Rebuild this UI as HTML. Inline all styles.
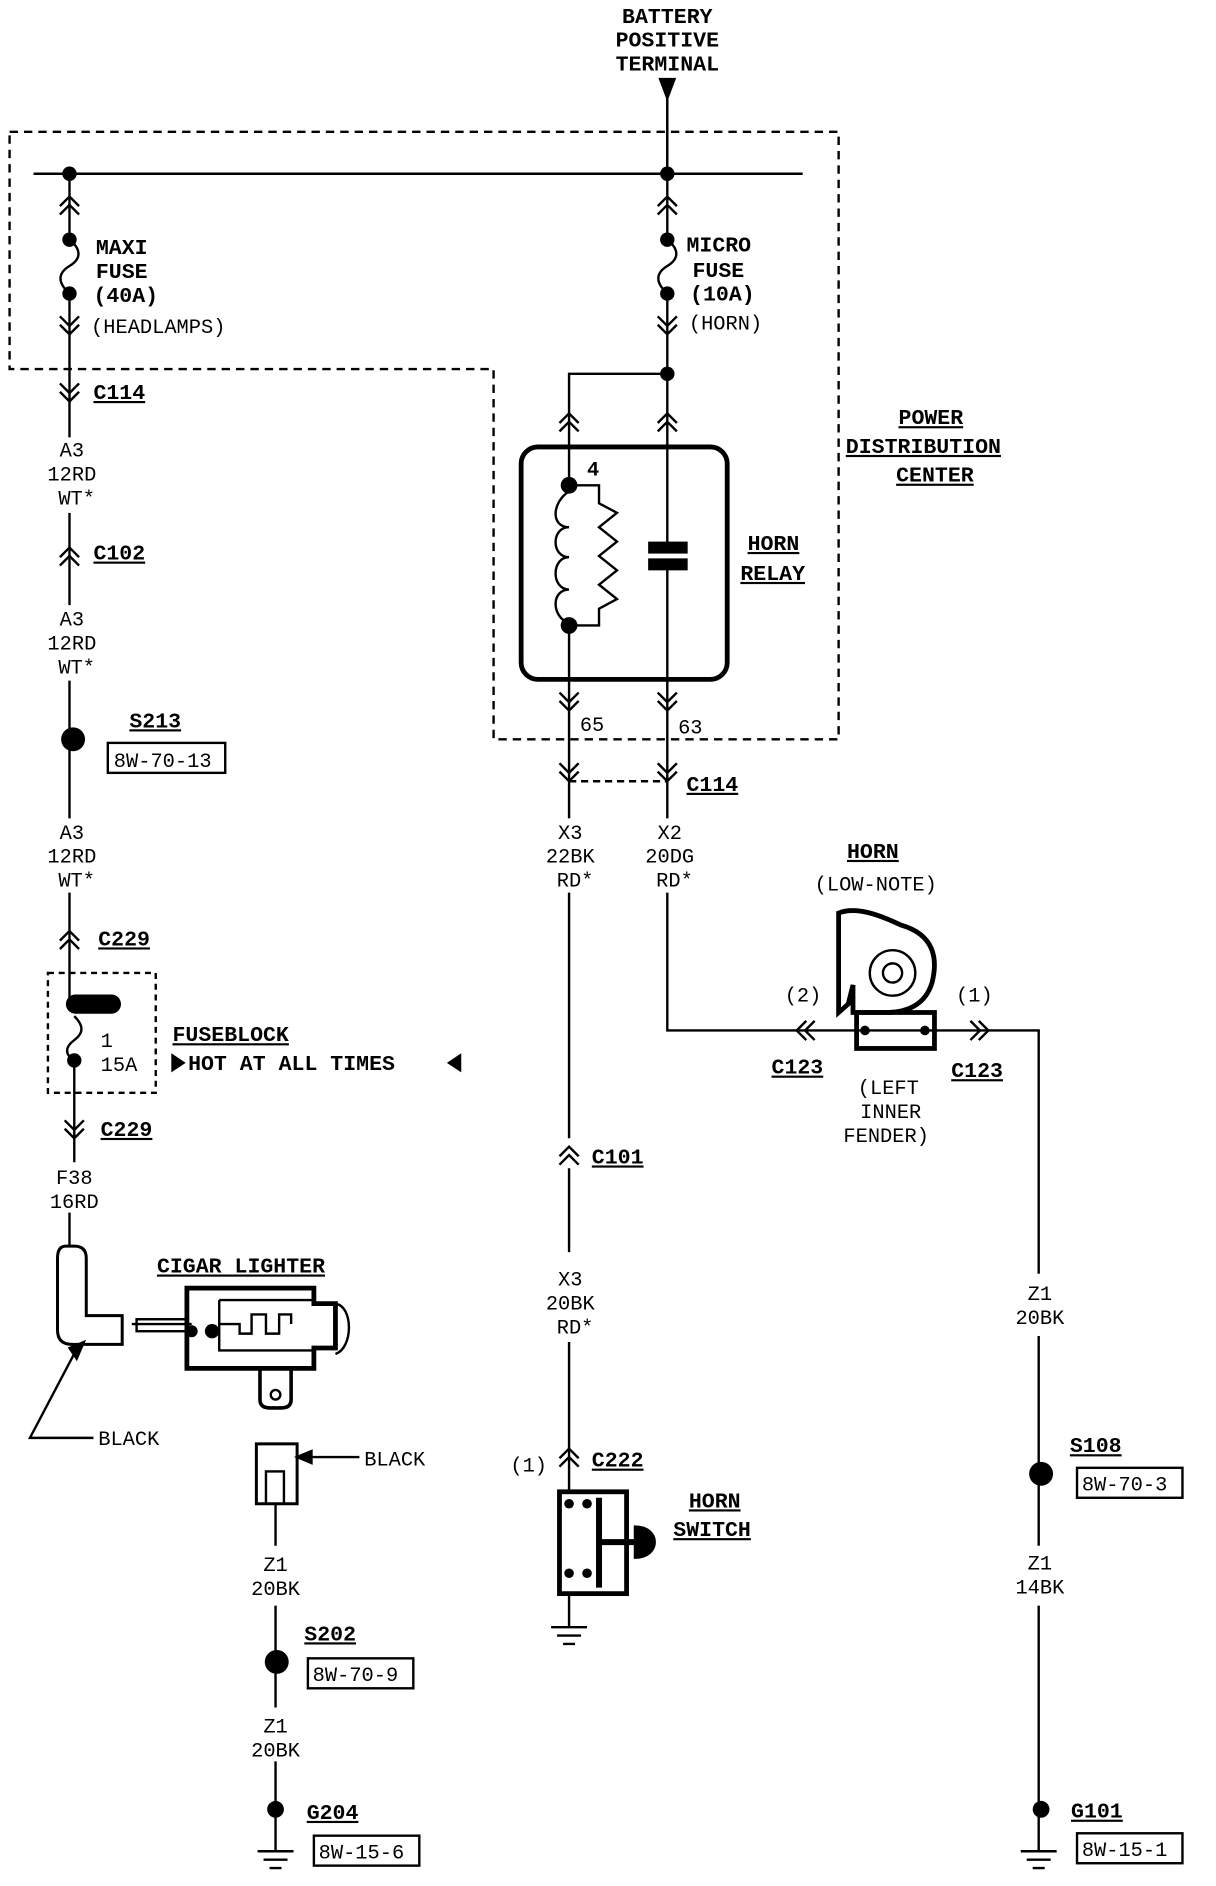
<!DOCTYPE html>
<html><head><meta charset="utf-8"><style>
html,body{margin:0;padding:0;background:#fff;}
svg{display:block;}
text{font-family:"Liberation Mono",monospace;fill:#000;}
.b{font-weight:bold;font-size:18px;}
.n{font-size:17px;}
.u{text-decoration:underline;}
</style></head><body>
<svg width="1216" height="1886" viewBox="0 0 1015 1574" preserveAspectRatio="none" xmlns="http://www.w3.org/2000/svg">
<g stroke="#000" stroke-width="2" fill="none">
<path d="M8 110 H700 V617 H412 V308 H8 Z" stroke-dasharray="7 5"/>
<path d="M557 68 V145"/>
<path d="M551 66 L557 82 L563 66 Z" fill="#000"/>
<path d="M28 145 H670"/>
<!-- left column -->
<path d="M58 145 V200 M58 245 V365 M58 428 V505 M58 568 V612"/>
<path d="M58 200 C68 208 68 216 58 222 C48 228 48 236 58 245"/>
<path d="M58 622 V683 M58 745 V835"/>
<path d="M62 885 V970 M58 1012 V1040"/>
<path d="M62 848 C70 856 70 862 62 868 C54 874 54 880 62 885"/>
<path d="M40 812 H130 V912 H40 Z" stroke-dasharray="5 4"/>
<!-- middle column -->
<path d="M557 82 V200 M557 245 V375"/>
<path d="M557 200 C567 208 567 216 557 222 C547 228 547 236 557 245"/>
<path d="M557 312 H475 V375"/>
<rect x="435" y="373" width="172" height="194" rx="14" stroke-width="4"/>
<path d="M475 373 V405 M475 522 V683 M557 375 V455 M557 472 V683"/>
<path d="M475 405 H500 V420 L515 428 L500 440 L515 452 L500 464 L515 476 L500 488 L515 500 L500 508 V522 H475"/>
<path d="M475 410 C460 420 460 440 475 440 C460 440 460 465 475 465 C460 465 460 492 475 492 C460 492 460 515 475 520"/>
<path d="M475 652 H557" stroke-dasharray="6 4"/>
<path d="M475 745 V950 M475 975 V1045 M475 1120 V1245 M475 1330 V1358"/>
<path d="M557 745 V860 H665"/>
<path d="M780 860 H867 V1063 M867 1115 V1225 M867 1236 V1290 M867 1340 V1505 M867 1515 V1545"/>
<path d="M700 762 C715 756 735 764 752 772 C780 780 783 800 778 820 C772 840 755 845 740 845 L712 845 L712 822 L708 838 L700 845 Z" stroke-width="4"/>
<circle cx="745" cy="812" r="19"/>
<circle cx="745" cy="812" r="8"/>
<rect x="715" y="845" width="65" height="30" stroke-width="4"/>
<path d="M665 860 H780"/>
<rect x="467" y="1245" width="56" height="85" stroke-width="4"/>
<path d="M500 1250 V1325" stroke-width="5"/>
<path d="M500 1287 H530" stroke-width="5"/>
<path d="M530 1274 C552 1274 552 1300 530 1300 Z" fill="#000"/>
<path d="M460 1358 H490 M465 1365 H485 M470 1372 H480"/>
<path d="M852 1545 H882 M857 1552 H877 M862 1559 H872"/>
<path d="M230 1505 V1545 M215 1545 H245 M220 1552 H240 M225 1559 H235"/>
<!-- cigar lighter -->
<path d="M55 1040 Q48 1040 48 1050 V1110 Q48 1122 60 1122 H102 V1098 H72 V1050 Q72 1040 62 1040 Z" stroke-width="2.5"/>
<path d="M65 1124 L25 1200 H78"/>
<path d="M58 1125 L70 1120 L64 1134 Z" fill="#000"/>
<path d="M110 1105 H160"/>
<rect x="114" y="1101" width="42" height="10"/>
<path d="M156 1075 H262 V1088 H280 V1125 H262 V1142 H156 Z" stroke-width="4"/>
<path d="M183 1085 H262 M183 1085 V1127 H262"/>
<path d="M280 1088 C295 1090 295 1125 280 1130"/>
<path d="M183 1105 H200 V1113 H210 V1097 H222 V1113 H233 V1097 H243 V1105"/>
<path d="M217 1142 V1168 Q217 1175 225 1175 H235 Q243 1175 243 1168 V1142" stroke-width="3"/>
<circle cx="230" cy="1164" r="4"/>
<rect x="214" y="1205" width="34" height="50" stroke-width="2.5"/>
<rect x="222" y="1228" width="15" height="27"/>
<path d="M300 1216 H256"/>
<path d="M248 1216 L260 1211 L260 1221 Z" fill="#000"/>
<path d="M230 1255 V1290 M230 1340 V1382 M230 1393 V1425 M230 1470 V1505"/>
<rect x="90" y="620" width="98" height="25"/>
<rect x="257" y="1384" width="88" height="25"/>
<rect x="899" y="1225" width="88" height="25"/>
<rect x="262" y="1532" width="88" height="25"/>
<rect x="899" y="1530" width="88" height="25"/>
</g>
<g stroke="#000" stroke-width="2" fill="none">
<path d="M50 172 L58 164 L66 172 M50 179 L58 171 L66 179"/>
<path d="M549 172 L557 164 L565 172 M549 179 L557 171 L565 179"/>
<path d="M50 264 L58 272 L66 264 M50 271 L58 279 L66 271"/>
<path d="M549 264 L557 272 L565 264 M549 271 L557 279 L565 271"/>
<path d="M50 320 L58 328 L66 320 M50 327 L58 335 L66 327"/>
<path d="M50 465 L58 457 L66 465 M50 472 L58 464 L66 472"/>
<path d="M467 353 L475 345 L483 353 M467 360 L475 352 L483 360"/>
<path d="M549 353 L557 345 L565 353 M549 360 L557 352 L565 360"/>
<path d="M467 578 L475 586 L483 578 M467 585 L475 593 L483 585"/>
<path d="M549 578 L557 586 L565 578 M549 585 L557 593 L565 585"/>
<path d="M467 637 L475 645 L483 637 M467 644 L475 652 L483 644"/>
<path d="M549 637 L557 645 L565 637 M549 644 L557 652 L565 644"/>
<path d="M50 785 L58 777 L66 785 M50 792 L58 784 L66 792"/>
<path d="M54 935 L62 943 L70 935 M54 942 L62 950 L70 942"/>
<path d="M467 965 L475 957 L483 965 M467 972 L475 964 L483 972"/>
<path d="M467 1217 L475 1209 L483 1217 M467 1224 L475 1216 L483 1224"/>
<path d="M673 852 L665 860 L673 868 M680 852 L672 860 L680 868"/>
<path d="M810 852 L818 860 L810 868 M817 852 L825 860 L817 868"/>
</g>
<g fill="#000">
<circle cx="58" cy="145" r="6"/><circle cx="557" cy="145" r="6"/>
<circle cx="58" cy="200" r="6"/><circle cx="58" cy="245" r="6"/>
<circle cx="557" cy="200" r="6"/><circle cx="557" cy="245" r="6"/>
<circle cx="557" cy="312" r="6"/>
<circle cx="475" cy="405" r="7"/><circle cx="475" cy="522" r="7"/>
<rect x="541" y="452" width="33" height="10"/><rect x="541" y="466" width="33" height="10"/>
<circle cx="61" cy="617" r="10"/>
<rect x="55" y="830" width="46" height="16" rx="8"/>
<circle cx="62" cy="885" r="6"/>
<circle cx="722" cy="860" r="4"/><circle cx="772" cy="860" r="4"/>
<circle cx="177" cy="1111" r="6"/><circle cx="160" cy="1111" r="5"/>
<circle cx="475" cy="1255" r="4"/><circle cx="475" cy="1313" r="4"/>
<circle cx="490" cy="1255" r="4"/><circle cx="490" cy="1313" r="4"/>
<circle cx="231" cy="1387" r="10"/>
<circle cx="869" cy="1230" r="10"/>
<circle cx="230" cy="1510" r="7"/>
<circle cx="869" cy="1510" r="7"/>
<path d="M143 879 L155 887 L143 895 Z"/>
<path d="M385 879 L373 887 L385 895 Z"/>
</g>
<g class="b" text-anchor="middle">
<text x="557" y="19">BATTERY</text>
<text x="557" y="39">POSITIVE</text>
<text x="557" y="59">TERMINAL</text>
</g>
<g class="b">
<text x="80" y="212">MAXI</text><text x="80" y="232">FUSE</text><text x="78" y="252">(40A)</text>
<text x="573" y="210">MICRO</text><text x="578" y="231">FUSE</text><text x="576" y="251">(10A)</text>
<text x="78" y="333" class="u">C114</text>
<text x="78" y="467" class="u">C102</text>
<text x="108" y="607" class="u">S213</text>
<text x="750" y="354" class="u">POWER</text>
<text x="706" y="378" class="u">DISTRIBUTION</text>
<text x="748" y="402" class="u">CENTER</text>
<text x="624" y="459" class="u">HORN</text>
<text x="618" y="484" class="u">RELAY</text>
<text x="573" y="660" class="u">C114</text>
<text x="707" y="716" class="u">HORN</text>
<text x="82" y="789" class="u">C229</text>
<text x="144" y="869" class="u">FUSEBLOCK</text>
<text x="157" y="893">HOT AT ALL TIMES</text>
<text x="84" y="948" class="u">C229</text>
<text x="644" y="896" class="u">C123</text>
<text x="794" y="899" class="u">C123</text>
<text x="494" y="971" class="u">C101</text>
<text x="131" y="1062" class="u">CIGAR LIGHTER</text>
<text x="893" y="1212" class="u">S108</text>
<text x="494" y="1224" class="u">C222</text>
<text x="575" y="1258" class="u">HORN</text>
<text x="562" y="1282" class="u">SWITCH</text>
<text x="254" y="1369" class="u">S202</text>
<text x="256" y="1518" class="u">G204</text>
<text x="894" y="1517" class="u">G101</text>
</g>
<g class="n">
<text x="76" y="278">(HEADLAMPS)</text>
<text x="575" y="275">(HORN)</text>
<text x="490" y="397" font-weight="bold">4</text>
<text x="484" y="610">65</text>
<text x="566" y="612">63</text>
<text x="84" y="874">1</text>
<text x="84" y="894">15A</text>
<text x="680" y="743">(LOW-NOTE)</text>
<text x="655" y="836">(2)</text>
<text x="798" y="836">(1)</text>
<text x="716" y="913">(LEFT</text>
<text x="718" y="933">INNER</text>
<text x="704" y="953">FENDER)</text>
<text x="82" y="1206">BLACK</text>
<text x="304" y="1223">BLACK</text>
<text x="426" y="1228">(1)</text>
<text x="95" y="640">8W-70-13</text>
<text x="261" y="1403">8W-70-9</text>
<text x="903" y="1244">8W-70-3</text>
<text x="266" y="1551">8W-15-6</text>
<text x="903" y="1549">8W-15-1</text>
</g>
<g class="n" text-anchor="middle">
<text x="60" y="381">A3</text><text x="60" y="401">12RD</text><text x="64" y="421">WT*</text>
<text x="60" y="522">A3</text><text x="60" y="542">12RD</text><text x="64" y="562">WT*</text>
<text x="60" y="700">A3</text><text x="60" y="720">12RD</text><text x="64" y="740">WT*</text>
<text x="476" y="700">X3</text><text x="476" y="720">22BK</text><text x="480" y="740">RD*</text>
<text x="559" y="700">X2</text><text x="559" y="720">20DG</text><text x="563" y="740">RD*</text>
<text x="62" y="988">F38</text><text x="62" y="1008">16RD</text>
<text x="476" y="1073">X3</text><text x="476" y="1093">20BK</text><text x="480" y="1113">RD*</text>
<text x="868" y="1085">Z1</text><text x="868" y="1105">20BK</text>
<text x="868" y="1310">Z1</text><text x="868" y="1330">14BK</text>
<text x="230" y="1311">Z1</text><text x="230" y="1331">20BK</text>
<text x="230" y="1446">Z1</text><text x="230" y="1466">20BK</text>
</g>
</svg>
</body></html>
